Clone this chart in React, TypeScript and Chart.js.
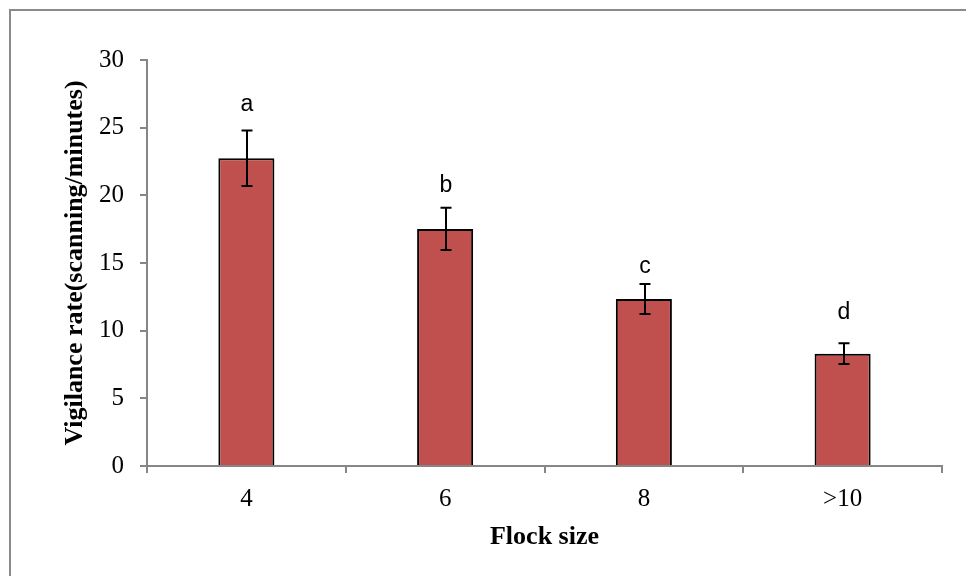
import React, { useEffect, useRef } from 'react';
import { Chart, registerables } from 'chart.js';

Chart.register(...registerables);

const categories = ['4', '6', '8', '>10'];
const means = [22.74, 17.52, 12.34, 8.3];
const errors = [2.05, 1.56, 1.1, 0.77];
const groupLetters = ['a', 'b', 'c', 'd'];
const letterValues = [26.25, 20.25, 14.26, 10.86];
const yTitle = 'Vigilance rate(scanning/minutes)';
const xTitle = 'Flock size';

const AXIS = '#868686';
const SERIF = '"Liberation Serif", "Times New Roman", serif';

const framePlugin = {
  id: 'frame',
  beforeDraw(chart: any) {
    const ctx = chart.ctx;
    ctx.save();
    ctx.fillStyle = '#ffffff';
    ctx.fillRect(0, 0, chart.width, chart.height);
    ctx.strokeStyle = '#8a8a8a';
    ctx.lineWidth = 2;
    ctx.strokeRect(10, 10, 2000, 2000);
    ctx.restore();
  },
};

const errorBarPlugin = {
  id: 'errorBars',
  afterDatasetsDraw(chart: any) {
    const meta = chart.getDatasetMeta(0);
    const y = chart.scales.y;
    const ctx = chart.ctx;
    ctx.save();
    ctx.strokeStyle = '#000000';
    ctx.lineWidth = 2;
    meta.data.forEach((bar: any, i: number) => {
      const x = Math.round(bar.x) + 1;
      const top = y.getPixelForValue(means[i] + errors[i]);
      const bot = y.getPixelForValue(means[i] - errors[i]);
      ctx.beginPath();
      ctx.moveTo(x, top);
      ctx.lineTo(x, bot);
      ctx.moveTo(x - 5.5, top);
      ctx.lineTo(x + 5.5, top);
      ctx.moveTo(x - 5.5, bot);
      ctx.lineTo(x + 5.5, bot);
      ctx.stroke();
      ctx.fillStyle = '#000000';
      ctx.font = '23px "Liberation Sans", Arial, sans-serif';
      ctx.textAlign = 'center';
      ctx.textBaseline = 'alphabetic';
      ctx.fillText(groupLetters[i], x, y.getPixelForValue(letterValues[i]));
    });
    ctx.restore();
  },
};

export default function App() {
  const ref = useRef<HTMLCanvasElement>(null);

  useEffect(() => {
    if (!ref.current) return;
    const chart = new Chart(ref.current, {
      type: 'bar',
      data: {
        labels: categories,
        datasets: [
          {
            data: means,
            backgroundColor: '#C0504D',
            borderColor: '#000000',
            borderWidth: 2,
            borderSkipped: 'bottom',
            categoryPercentage: 1,
            barPercentage: 0.282,
          },
        ],
      },
      options: {
        responsive: false,
        animation: false,
        layout: { padding: { left: 0, top: 60, right: 24, bottom: 0 } },
        plugins: {
          legend: { display: false },
          tooltip: { enabled: false },
        },
        scales: {
          x: {
            z: 1,
            afterFit(scale: any) {
              scale.height = 110;
            },
            grid: {
              offset: true,
              drawOnChartArea: false,
              drawTicks: true,
              tickLength: 7,
              tickWidth: 2,
              tickColor: AXIS,
              color: AXIS,
              lineWidth: 2,
            },
            border: { display: true, color: AXIS, width: 2 },
            ticks: {
              color: '#000000',
              padding: 11,
              font: { family: SERIF, size: 25 },
            },
            title: {
              display: true,
              text: xTitle,
              color: '#000000',
              font: { family: SERIF, size: 26, weight: 'bold' },
              padding: { top: 0, bottom: 23 },
            },
          },
          y: {
            min: 0,
            max: 30,
            afterFit(scale: any) {
              scale.width = 147;
            },
            grid: {
              drawOnChartArea: false,
              drawTicks: true,
              tickLength: 7,
              tickWidth: 2,
              tickColor: AXIS,
              color: AXIS,
              lineWidth: 2,
            },
            border: { display: true, color: AXIS, width: 2 },
            ticks: {
              stepSize: 5,
              color: '#000000',
              padding: 16,
              font: { family: SERIF, size: 25 },
            },
            title: {
              display: true,
              text: yTitle,
              color: '#000000',
              font: { family: SERIF, size: 26, weight: 'bold' },
              padding: { top: 60, bottom: 0 },
            },
          },
        },
      },
      plugins: [framePlugin, errorBarPlugin],
    } as any);
    return () => chart.destroy();
  }, []);

  return (
    <div style={{ position: 'fixed', left: 0, top: 0, width: 966, height: 576, background: '#fff' }}>
      <canvas ref={ref} width={966} height={576} style={{ display: 'block', width: 966, height: 576 }} />
    </div>
  );
}
